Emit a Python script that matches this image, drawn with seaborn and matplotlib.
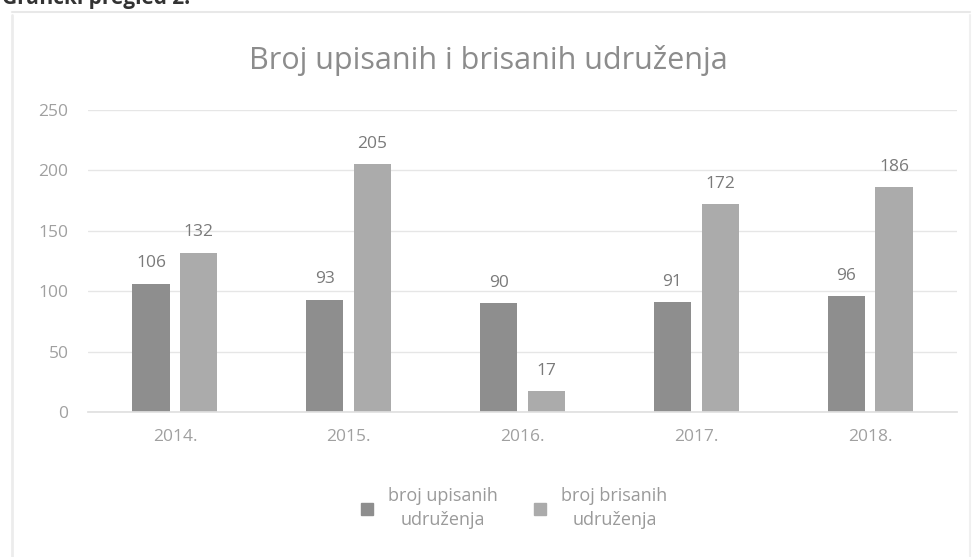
import matplotlib
matplotlib.use("Agg")
import matplotlib.pyplot as plt
import seaborn as sns
import pandas as pd
from matplotlib.lines import Line2D

years = ["2014.", "2015.", "2016.", "2017.", "2018."]
upisanih = [106, 93, 90, 91, 96]
brisanih = [132, 205, 17, 172, 186]
series_names = ["broj upisanih\nudruženja", "broj brisanih\nudruženja"]
yticks = [0, 50, 100, 150, 200, 250]

df = pd.DataFrame({
    "godina": years * 2,
    "vrijednost": upisanih + brisanih,
    "serija": [series_names[0]] * len(years) + [series_names[1]] * len(years),
})

sns.set_theme(style="white")
plt.rcParams["font.family"] = ["Open Sans", "DejaVu Sans"]

W, H = 976, 557
fig = plt.figure(figsize=(W / 100, H / 100), dpi=100)
ax = fig.add_axes([88 / W, 1 - 412 / H, (957 - 88) / W, (412 - 110) / H])

colors = ["#8e8e8e", "#ababab"]
sns.barplot(data=df, x="godina", y="vrijednost", hue="serija",
            palette=colors, width=0.55, gap=0.22, ax=ax, legend=False,
            saturation=1, edgecolor="none")

for cont in ax.containers:
    ax.bar_label(cont, padding=9, fontsize=12.5, color="#7a7a7a")

ax.set_ylim(0, 250)
ax.set_xlim(-0.5, len(years) - 0.5)
ax.set_yticks(yticks)
ax.set_yticklabels([str(t) for t in yticks])
ax.yaxis.grid(True, color="#e6e6e6", linewidth=1)
ax.set_axisbelow(True)
for s in ["top", "right", "left"]:
    ax.spines[s].set_visible(False)
ax.spines["bottom"].set_color("#e0e0e0")
ax.tick_params(axis="both", length=0, colors="#a0a0a0", labelsize=12.5)
ax.tick_params(axis="y", pad=14)
ax.tick_params(axis="x", pad=12)
ax.set_xlabel("")
ax.set_ylabel("")

fig.text(0.5, 1 - 60 / H, "Broj upisanih i brisanih udruženja",
         ha="center", va="center", fontsize=22, color="#8c8c8c")

handles = [Line2D([0], [0], marker="s", linestyle="none", markersize=8,
                  markerfacecolor=c, markeredgecolor=c) for c in colors]
leg = fig.legend(handles, series_names, loc="center", bbox_to_anchor=(508 / W, 1 - 508 / H),
                 ncol=2, frameon=False, fontsize=13, labelcolor="#9a9a9a",
                 handletextpad=0.2, columnspacing=1.3)
for t in leg.get_texts():
    t.set_multialignment("center")
    t.set_linespacing(1.45)

# document frame and cut-off header
fig.add_artist(Line2D([12 / W, 970 / W], [1 - 12 / H, 1 - 12 / H], color="#e8e8e8", lw=1.5))
fig.add_artist(Line2D([12 / W, 12 / W], [1 - 15 / H, 0], color="#ececec", lw=2))
fig.add_artist(Line2D([970 / W, 970 / W], [1 - 15 / H, 0], color="#f0f0f0", lw=1.5))
fig.text(2 / W, 1 - 4 / H, "Grafički pregled 2.", ha="left", va="baseline",
         fontsize=15, fontweight="bold", color="#333333")

fig.savefig("out.png", dpi=100)
